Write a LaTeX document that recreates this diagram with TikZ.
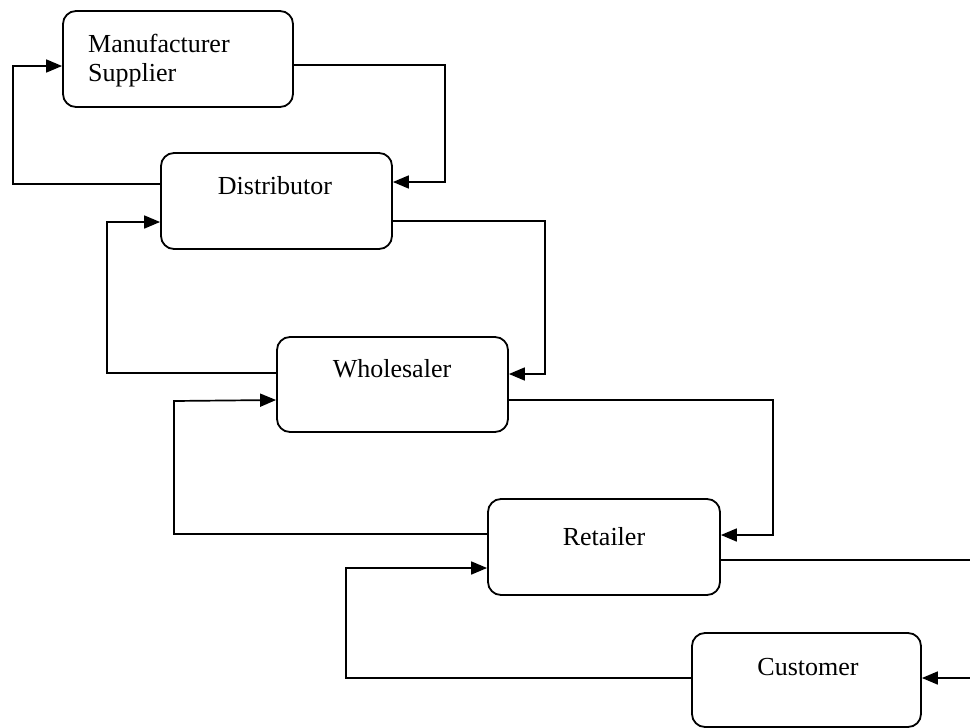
\documentclass[tikz,border=0pt]{standalone}
\usepackage{fontspec}
\setmainfont{Liberation Serif}
\usetikzlibrary{arrows.meta}
\begin{document}
\begin{tikzpicture}[x=1pt,y=-1pt,
  box/.style={draw, line width=1.8pt, rounded corners=13pt, inner sep=0pt},
  lbl/.style={anchor=base, inner sep=0pt, font=\fontsize{26}{30}\selectfont},
  conn/.style={line width=1.7pt},
  arr/.style={conn, -{Triangle[length=16pt,width=13pt]}}]
\useasboundingbox (0,0) rectangle (970,728);
% boxes
\node[box, minimum width=230pt, minimum height=96pt] (man) at (178,59) {};
\node[box, minimum width=231pt, minimum height=96pt] (dist) at (276.5,201) {};
\node[box, minimum width=231pt, minimum height=95pt] (whole) at (392.5,384.5) {};
\node[box, minimum width=232pt, minimum height=96pt] (ret) at (604,547) {};
\node[box, minimum width=229pt, minimum height=94pt] (cust) at (806.5,680) {};
% labels
\node[lbl, anchor=base west] (t1) at (88,52) {Manufacturer};
\node[lbl, anchor=base west] (t2) at (88,81) {Supplier};
\node[lbl] (t3) at (275,194) {Distributor};
\node[lbl] (t4) at (392,377) {Wholesaler};
\node[lbl] (t5) at (604,545) {Retailer};
\node[lbl] (t6) at (808,675) {Customer};
% connectors
\draw[arr] (dist.west |- 0,184) -| (13,66) -- (man.west |- 0,66);
\draw[arr] (man.east |- 0,65) -| (445,182) -- (dist.east |- 0,182);
\draw[arr] (whole.west |- 0,373) -| (107,222) -- (dist.west |- 0,222);
\draw[arr] (dist.east |- 0,221) -| (545,374) -- (whole.east |- 0,374);
\draw[arr] (ret.west |- 0,534) -| (174,401) -- (whole.west |- 0,400);
\draw[arr] (whole.east |- 0,400) -| (773,535) -- (ret.east |- 0,535);
\draw[arr] (cust.west |- 0,678) -| (346,568) -- (ret.west |- 0,568);
\coordinate (r1) at (970,560);
\coordinate (r2) at (970,678);
\draw[conn] (ret.east |- 0,560) -- (r1);
\draw[arr] (r2) -- (cust.east |- 0,678);
\end{tikzpicture}
\end{document}
